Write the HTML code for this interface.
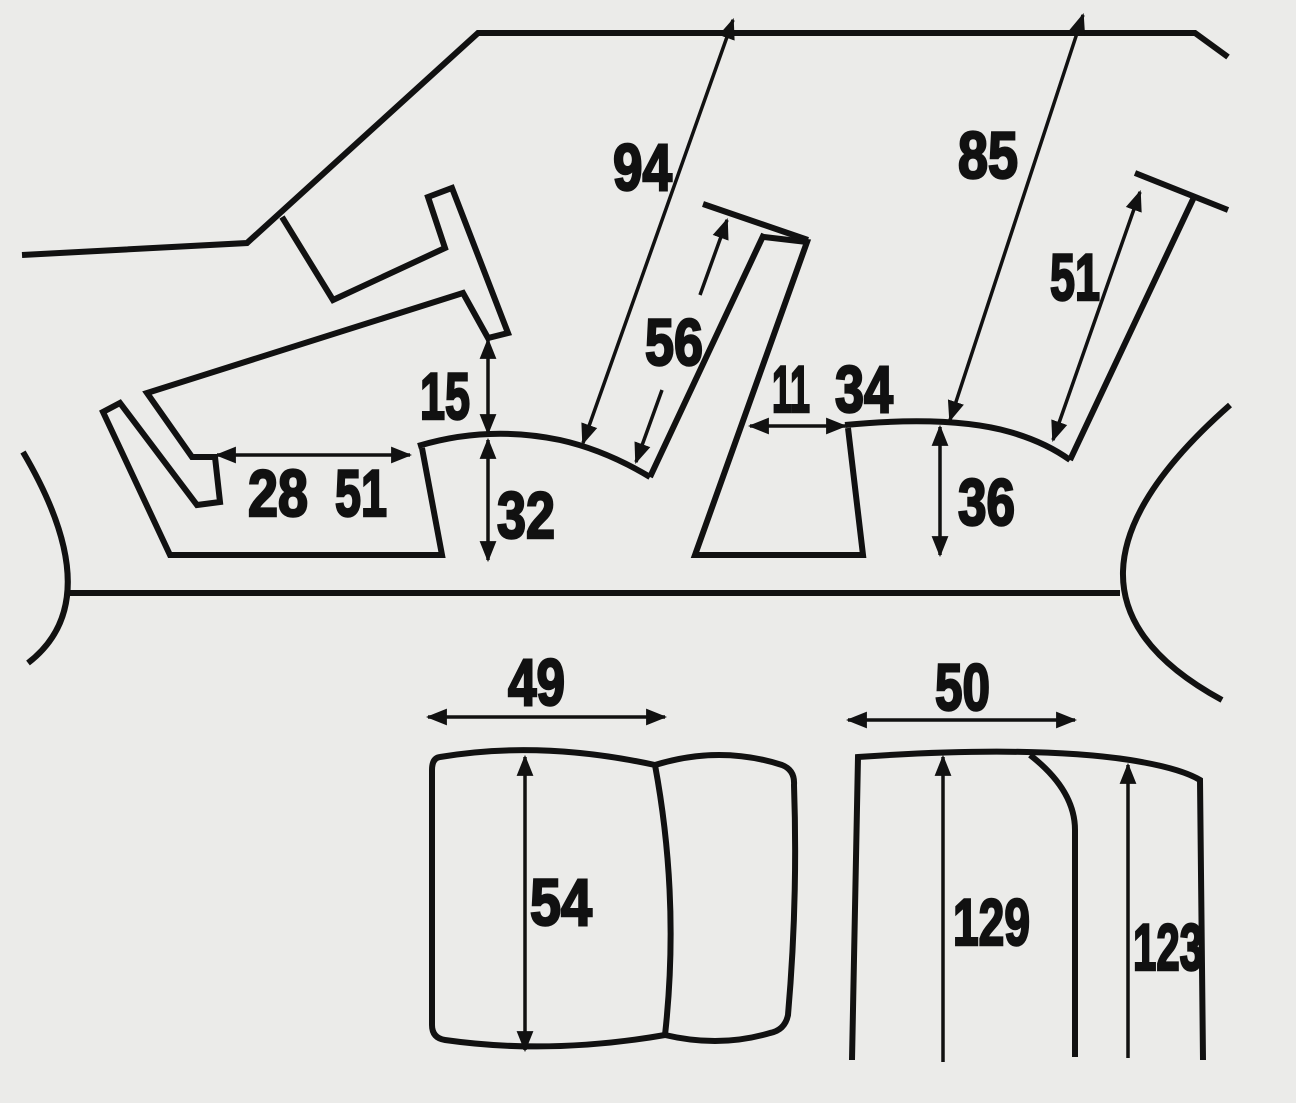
<!DOCTYPE html>
<html><head><meta charset="utf-8"><style>
html,body{margin:0;padding:0;background:#ebebe9;}
svg{display:block}
text{font-family:"Liberation Sans Narrow","Liberation Sans",sans-serif;font-weight:bold;font-size:66px;fill:#111;stroke:#111;stroke-width:2.5px}
</style></head><body>
<svg width="1296" height="1103" viewBox="0 0 1296 1103" xmlns="http://www.w3.org/2000/svg">
<defs>
<marker id="a" viewBox="0 0 10 10" refX="9" refY="5" markerWidth="6" markerHeight="6" orient="auto-start-reverse" markerUnits="strokeWidth">
<path d="M0,1 L10,5 L0,9 z" fill="#111"/></marker>
</defs>
<rect width="1296" height="1103" fill="#ebebe9"/>
<g fill="none" stroke="#111" stroke-width="6" stroke-linejoin="miter" stroke-linecap="butt">
<polyline points="22,255 247,243 478,33 1195,33 1228,57"/>
<polyline points="282,217 333,300 445,248 428,197 452,188 508,333 488,338 463,293 147,393 192,457 215,457 220,502 197,505 120,403 103,412 170,555 442,555 422,448"/>
<path d="M418,446 Q488,425 560,440 Q605,450 650,477"/>
<line x1="650" y1="477" x2="764" y2="234"/>
<line x1="703" y1="204" x2="808" y2="240"/>
<polyline points="764,237 807,242 695,555 863,555 848,428"/>
<path d="M845,425 Q950,415 1010,432 Q1045,442 1070,460"/>
<line x1="1070" y1="460" x2="1195" y2="195"/>
<line x1="1135" y1="173" x2="1228" y2="210"/>
<line x1="66" y1="593" x2="1120" y2="593"/>
<path d="M23,452 Q110,600 28,663"/>
<path d="M1230,405 Q1020,590 1222,700"/>
<path d="M440,757 Q540,740 655,765 Q680,900 665,1035 Q550,1055 445,1040 Q432,1038 432,1025 L432,770 Q432,758 440,757 Z"/>
<path d="M655,765 Q720,745 782,765 Q795,770 794,785 Q798,900 788,1015 Q785,1030 770,1033 Q720,1048 665,1035"/>
<path d="M852,1060 L858,757 Q1030,745 1130,760 Q1180,768 1200,780 L1203,1060"/>
<path d="M1030,755 Q1075,790 1075,830 L1075,1057"/>
</g>
<g fill="none" stroke="#111" stroke-width="3.5">
<line x1="217" y1="455" x2="410" y2="455" marker-start="url(#a)" marker-end="url(#a)"/>
<line x1="488" y1="340" x2="488" y2="433" marker-start="url(#a)" marker-end="url(#a)"/>
<line x1="488" y1="440" x2="488" y2="560" marker-start="url(#a)" marker-end="url(#a)"/>
<line x1="583" y1="443" x2="733" y2="20" marker-start="url(#a)" marker-end="url(#a)"/>
<line x1="636" y1="462" x2="662" y2="390" marker-start="url(#a)"/>
<line x1="700" y1="295" x2="727" y2="220" marker-end="url(#a)"/>
<line x1="750" y1="426" x2="845" y2="426" marker-start="url(#a)" marker-end="url(#a)"/>
<line x1="950" y1="420" x2="1083" y2="15" marker-start="url(#a)" marker-end="url(#a)"/>
<line x1="1053" y1="440" x2="1140" y2="192" marker-start="url(#a)" marker-end="url(#a)"/>
<line x1="940" y1="427" x2="940" y2="555" marker-start="url(#a)" marker-end="url(#a)"/>
<line x1="428" y1="717" x2="665" y2="717" marker-start="url(#a)" marker-end="url(#a)"/>
<line x1="848" y1="720" x2="1075" y2="720" marker-start="url(#a)" marker-end="url(#a)"/>
<line x1="525" y1="757" x2="525" y2="1050" marker-start="url(#a)" marker-end="url(#a)"/>
<line x1="943" y1="1062" x2="943" y2="757" marker-end="url(#a)"/>
<line x1="1128" y1="1058" x2="1128" y2="765" marker-end="url(#a)"/>
</g>
<g>
<text x="248" y="516" textLength="60" lengthAdjust="spacingAndGlyphs">28</text>
<text x="335" y="516" textLength="52" lengthAdjust="spacingAndGlyphs">51</text>
<text x="420" y="419" textLength="50" lengthAdjust="spacingAndGlyphs">15</text>
<text x="497" y="538" textLength="58" lengthAdjust="spacingAndGlyphs">32</text>
<text x="613" y="190" textLength="59" lengthAdjust="spacingAndGlyphs">94</text>
<text x="645" y="365" textLength="58" lengthAdjust="spacingAndGlyphs">56</text>
<text x="772" y="412" textLength="38" lengthAdjust="spacingAndGlyphs">11</text>
<text x="835" y="412" textLength="58" lengthAdjust="spacingAndGlyphs">34</text>
<text x="958" y="178" textLength="60" lengthAdjust="spacingAndGlyphs">85</text>
<text x="1050" y="300" textLength="50" lengthAdjust="spacingAndGlyphs">51</text>
<text x="958" y="525" textLength="57" lengthAdjust="spacingAndGlyphs">36</text>
<text x="508" y="705" textLength="57" lengthAdjust="spacingAndGlyphs">49</text>
<text x="935" y="710" textLength="55" lengthAdjust="spacingAndGlyphs">50</text>
<text x="530" y="925" textLength="62" lengthAdjust="spacingAndGlyphs">54</text>
<text x="953" y="945" textLength="77" lengthAdjust="spacingAndGlyphs">129</text>
<text x="1133" y="970" textLength="70" lengthAdjust="spacingAndGlyphs">123</text>
</g>
</svg>
</body></html>
